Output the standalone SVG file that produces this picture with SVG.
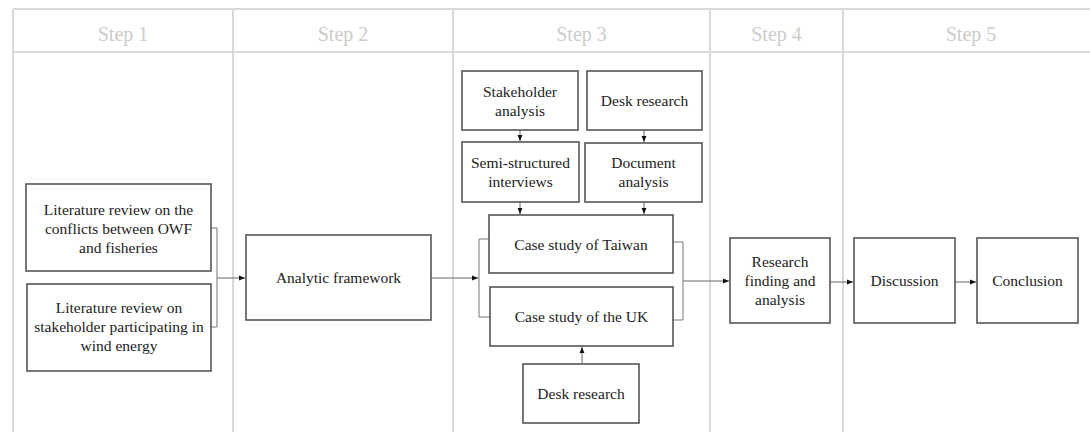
<svg xmlns="http://www.w3.org/2000/svg" width="1090" height="432" viewBox="0 0 1090 432">
<style>
.grid{stroke:#d9d9d9;stroke-width:2;fill:none}
.step{font-family:"Liberation Serif","Times New Roman",serif;font-size:20px;fill:#cccccc;text-anchor:middle}
.box{fill:#ffffff;stroke:#555555;stroke-width:1.6}
.t{font-family:"Liberation Serif","Times New Roman",serif;font-size:15.5px;fill:#222222;text-anchor:middle}
.c{stroke:#777777;stroke-width:1;fill:none}
.a{stroke:#666666;stroke-width:1;fill:none;marker-end:url(#ah)}
</style>
<defs>
<marker id="ah" viewBox="0 0 6 6" refX="6" refY="3" markerWidth="6" markerHeight="6" markerUnits="userSpaceOnUse" orient="auto">
<path d="M0,0.6 L6,3 L0,5.4 z" fill="#111111"/>
</marker>
</defs>
<rect width="1090" height="432" fill="#ffffff"/>
<g id="grid">
<path class="grid" d="M13,9 H1090 M13,52 H1090 M13,9 V432 M233,9 V432 M453,9 V432 M710,9 V432 M843,9 V432"/>
<text class="step" x="123" y="41">Step 1</text>
<text class="step" x="343" y="41">Step 2</text>
<text class="step" x="581.5" y="41">Step 3</text>
<text class="step" x="776.5" y="41">Step 4</text>
<text class="step" x="971" y="41">Step 5</text>
</g>
<g id="connectors">
<path class="c" d="M211,228 H217 V327 H211"/>
<path class="a" d="M217,278 H245"/>
<path class="a" d="M431,278 H478"/>
<path class="c" d="M489,239 H479 V317 H490"/>
<path class="c" d="M673,242 H683 V320 H673"/>
<path class="a" d="M683,281 H729"/>
<path class="a" d="M830,282 H853"/>
<path class="a" d="M955,282 H976"/>
<path class="a" d="M520,130 V141"/>
<path class="a" d="M644,130 V142"/>
<path class="a" d="M520,202 V214"/>
<path class="a" d="M644,202 V214"/>
<path class="a" d="M582,364 V347"/>
</g>
<g id="lit-conflicts">
<rect class="box" x="26" y="184" width="185" height="87"/>
<text class="t" x="118.5" y="214.5">Literature review on the</text>
<text class="t" x="118.5" y="233.5">conflicts between OWF</text>
<text class="t" x="118.5" y="252.5">and fisheries</text>
</g>
<g id="lit-stakeholder">
<rect class="box" x="27" y="284" width="184" height="87"/>
<text class="t" x="119" y="313">Literature review on</text>
<text class="t" x="119" y="332">stakeholder participating in</text>
<text class="t" x="119" y="351">wind energy</text>
</g>
<g id="analytic">
<rect class="box" x="246" y="235" width="185" height="85"/>
<text class="t" x="338.5" y="283">Analytic framework</text>
</g>
<g id="stakeholder-analysis">
<rect class="box" x="462" y="71" width="116" height="59"/>
<text class="t" x="520" y="96.5">Stakeholder</text>
<text class="t" x="520" y="115.5">analysis</text>
</g>
<g id="desk-research-top">
<rect class="box" x="587" y="71" width="115" height="59"/>
<text class="t" x="644.5" y="106">Desk research</text>
</g>
<g id="semi-structured">
<rect class="box" x="462" y="142" width="117" height="60"/>
<text class="t" x="520.5" y="167.5">Semi-structured</text>
<text class="t" x="520.5" y="186.5">interviews</text>
</g>
<g id="document-analysis">
<rect class="box" x="585" y="143" width="117" height="59"/>
<text class="t" x="643.5" y="168">Document</text>
<text class="t" x="643.5" y="187">analysis</text>
</g>
<g id="case-taiwan">
<rect class="box" x="489" y="215" width="184" height="58"/>
<text class="t" x="581" y="249.5">Case study of Taiwan</text>
</g>
<g id="case-uk">
<rect class="box" x="490" y="287" width="183" height="59"/>
<text class="t" x="581.5" y="322">Case study of the UK</text>
</g>
<g id="desk-research-bottom">
<rect class="box" x="523" y="364" width="116" height="59"/>
<text class="t" x="581" y="399">Desk research</text>
</g>
<g id="research-finding">
<rect class="box" x="730" y="238" width="100" height="85"/>
<text class="t" x="780" y="266.5">Research</text>
<text class="t" x="780" y="285.5">finding and</text>
<text class="t" x="780" y="304.5">analysis</text>
</g>
<g id="discussion">
<rect class="box" x="854" y="238" width="101" height="85"/>
<text class="t" x="904.5" y="286">Discussion</text>
</g>
<g id="conclusion">
<rect class="box" x="977" y="238" width="101" height="85"/>
<text class="t" x="1027.5" y="286">Conclusion</text>
</g>
</svg>
